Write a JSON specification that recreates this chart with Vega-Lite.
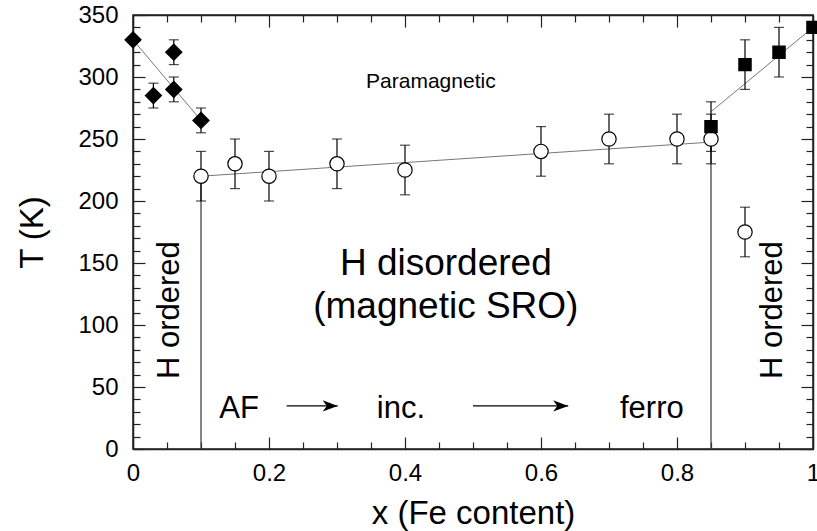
{
  "$schema": "https://vega.github.io/schema/vega-lite/v6.json",
  "width": 680,
  "height": 434,
  "autosize": {"type": "none"},
  "padding": {"left": 133, "top": 15, "right": 4, "bottom": 82},
  "background": "white",
  "config": {
    "view": {"stroke": "#222", "strokeWidth": 1.5},
    "font": "Liberation Sans",
    "axis": {"grid": false, "domainColor": "#222", "domainWidth": 1.5, "tickColor": "#222", "tickWidth": 1.2, "labelFont": "Liberation Sans", "titleFont": "Liberation Sans", "labelColor": "black", "titleColor": "black", "titleFontWeight": "normal", "labelOverlap": false, "labelFlush": false, "labelBound": false}
  },
  "datasets": {
    "pts": [
      {"x": 0, "T": 330, "lo": null, "hi": null, "kind": "diamond"},
      {"x": 0.03, "T": 285, "lo": 275, "hi": 295, "kind": "diamond"},
      {"x": 0.06, "T": 320, "lo": 310, "hi": 330, "kind": "diamond"},
      {"x": 0.06, "T": 290, "lo": 280, "hi": 300, "kind": "diamond"},
      {"x": 0.1, "T": 265, "lo": 255, "hi": 275, "kind": "diamond"},
      {"x": 0.1, "T": 220, "lo": 200, "hi": 240, "kind": "circle"},
      {"x": 0.15, "T": 230, "lo": 210, "hi": 250, "kind": "circle"},
      {"x": 0.2, "T": 220, "lo": 200, "hi": 240, "kind": "circle"},
      {"x": 0.3, "T": 230, "lo": 210, "hi": 250, "kind": "circle"},
      {"x": 0.4, "T": 225, "lo": 205, "hi": 245, "kind": "circle"},
      {"x": 0.6, "T": 240, "lo": 220, "hi": 260, "kind": "circle"},
      {"x": 0.7, "T": 250, "lo": 230, "hi": 270, "kind": "circle"},
      {"x": 0.8, "T": 250, "lo": 230, "hi": 270, "kind": "circle"},
      {"x": 0.85, "T": 250, "lo": 230, "hi": 270, "kind": "circle"},
      {"x": 0.9, "T": 175, "lo": 155, "hi": 195, "kind": "circle"},
      {"x": 0.85, "T": 260, "lo": 240, "hi": 280, "kind": "square"},
      {"x": 0.9, "T": 310, "lo": 290, "hi": 330, "kind": "square"},
      {"x": 0.95, "T": 320, "lo": 300, "hi": 340, "kind": "square"},
      {"x": 1.0, "T": 340, "lo": null, "hi": null, "kind": "square"}
    ],
    "fits": [
      {"x": 0, "T": 330, "seg": "a"},
      {"x": 0.1, "T": 265, "seg": "a"},
      {"x": 0.1, "T": 220, "seg": "b"},
      {"x": 0.85, "T": 247.5, "seg": "b"},
      {"x": 0.85, "T": 272, "seg": "c"},
      {"x": 1.0, "T": 340, "seg": "c"}
    ],
    "vlines": [
      {"x": 0.1, "T0": 0, "T1": 220},
      {"x": 0.85, "T0": 0, "T1": 250}
    ],
    "arrows": [
      {"x1": 0.226, "x2": 0.301, "T": 34.7},
      {"x1": 0.5, "x2": 0.64, "T": 34.7}
    ]
  },
  "resolve": {"axis": {"x": "independent", "y": "independent"}},
  "layer": [
    {
      "data": {"name": "fits"},
      "mark": {"type": "line", "color": "#777", "strokeWidth": 1},
      "encoding": {
        "x": {"field": "x", "type": "quantitative", "scale": {"domain": [0, 1], "nice": false, "zero": false},
          "axis": {
            "orient": "bottom",
            "values": [0,0.05,0.1,0.15,0.2,0.25,0.3,0.35,0.4,0.45,0.5,0.55,0.6,0.65,0.7,0.75,0.8,0.85,0.9,0.95,1],
            "tickSize": {"condition": {"test": "abs(datum.value*5 - round(datum.value*5)) < 0.001", "value": -12}, "value": -7},
            "labelExpr": "abs(datum.value*5 - round(datum.value*5)) < 0.001 ? format(datum.value, '~g') : ''",
            "labelOverlap": false,
            "labelFontSize": 24,
            "labelPadding": 24,
            "labelBaseline": "top",
            "title": "x (Fe content)",
            "titleFontSize": 33,
            "titleX": 340,
            "titleY": 74,
            "titleBaseline": "alphabetic",
            "titleAlign": "center"
          }},
        "y": {"field": "T", "type": "quantitative", "scale": {"domain": [0, 350], "nice": false, "zero": false},
          "axis": {
            "orient": "left",
            "values": [0,10,20,30,40,50,60,70,80,90,100,110,120,130,140,150,160,170,180,190,200,210,220,230,240,250,260,270,280,290,300,310,320,330,340,350],
            "tickSize": {"condition": {"test": "datum.value % 50 === 0", "value": -12}, "value": -7},
            "labelExpr": "datum.value % 50 === 0 ? datum.label : ''",
            "labelOverlap": false,
            "labelFontSize": 24,
            "labelPadding": 27,
            "labelBaseline": "middle",
            "title": "T (K)",
            "titleFontSize": 33,
            "titleX": -91,
            "titleY": 217,
            "titleAngle": 270,
            "titleBaseline": "alphabetic",
            "titleAlign": "center"
          }},
        "detail": {"field": "seg"}
      }
    },
    {
      "data": {"name": "pts"},
      "mark": {"type": "point", "opacity": 0},
      "encoding": {
        "x": {"field": "x", "type": "quantitative",
          "axis": {
            "orient": "top",
            "values": [0,0.05,0.1,0.15,0.2,0.25,0.3,0.35,0.4,0.45,0.5,0.55,0.6,0.65,0.7,0.75,0.8,0.85,0.9,0.95,1],
            "tickSize": {"condition": {"test": "abs(datum.value*5 - round(datum.value*5)) < 0.001", "value": -12}, "value": -7},
            "labels": false, "title": null
          }},
        "y": {"field": "T", "type": "quantitative",
          "axis": {
            "orient": "right",
            "values": [0,10,20,30,40,50,60,70,80,90,100,110,120,130,140,150,160,170,180,190,200,210,220,230,240,250,260,270,280,290,300,310,320,330,340,350],
            "tickSize": {"condition": {"test": "datum.value % 50 === 0", "value": -12}, "value": -7},
            "labels": false, "title": null
          }}
      }
    },
    {
      "data": {"name": "vlines"},
      "mark": {"type": "rule", "color": "#444", "strokeWidth": 1.3},
      "encoding": {
        "x": {"field": "x", "type": "quantitative", "axis": null},
        "y": {"field": "T0", "type": "quantitative", "axis": null},
        "y2": {"field": "T1"}
      }
    },
    {
      "data": {"name": "pts"},
      "mark": {"type": "rule", "color": "black", "strokeWidth": 1.2},
      "encoding": {
        "x": {"field": "x", "type": "quantitative", "axis": null},
        "y": {"field": "lo", "type": "quantitative", "axis": null},
        "y2": {"field": "hi"}
      }
    },
    {
      "data": {"name": "pts"},
      "mark": {"type": "tick", "orient": "horizontal", "color": "black", "size": 10, "thickness": 1.2},
      "encoding": {
        "x": {"field": "x", "type": "quantitative", "axis": null},
        "y": {"field": "lo", "type": "quantitative", "axis": null}
      }
    },
    {
      "data": {"name": "pts"},
      "mark": {"type": "tick", "orient": "horizontal", "color": "black", "size": 10, "thickness": 1.2},
      "encoding": {
        "x": {"field": "x", "type": "quantitative", "axis": null},
        "y": {"field": "hi", "type": "quantitative", "axis": null}
      }
    },
    {
      "data": {"name": "pts"},
      "mark": {"type": "point", "filled": false, "stroke": "black", "strokeWidth": 1.2, "opacity": 1},
      "encoding": {
        "x": {"field": "x", "type": "quantitative", "axis": null},
        "y": {"field": "T", "type": "quantitative", "axis": null},
        "shape": {"field": "kind", "type": "nominal", "scale": {"domain": ["diamond", "circle", "square"], "range": ["diamond", "circle", "square"]}, "legend": null},
        "fill": {"field": "kind", "type": "nominal", "scale": {"domain": ["diamond", "circle", "square"], "range": ["black", "white", "black"]}, "legend": null},
        "size": {"field": "kind", "type": "nominal", "scale": {"domain": ["diamond", "circle", "square"], "range": [260, 150, 150]}, "legend": null}
      }
    },
    {
      "data": {"name": "arrows"},
      "mark": {"type": "rule", "color": "black", "strokeWidth": 1.3},
      "encoding": {
        "x": {"field": "x1", "type": "quantitative", "axis": null},
        "x2": {"field": "x2"},
        "y": {"field": "T", "type": "quantitative", "axis": null}
      }
    },
    {
      "data": {"name": "arrows"},
      "mark": {"type": "point", "shape": "M0,0L-2,-0.75L-1.45,0L-2,0.75Z", "filled": true, "color": "black", "size": 225, "opacity": 1},
      "encoding": {
        "x": {"field": "x2", "type": "quantitative", "axis": null},
        "y": {"field": "T", "type": "quantitative", "axis": null}
      }
    },
    {
      "data": {"values": [{"t": "Paramagnetic", "x": 0.438, "T": 291}]},
      "mark": {"type": "text", "fontSize": 21, "align": "center", "baseline": "alphabetic", "color": "black"},
      "encoding": {"x": {"field": "x", "type": "quantitative", "axis": null}, "y": {"field": "T", "type": "quantitative", "axis": null}, "text": {"field": "t"}}
    },
    {
      "data": {"values": [{"t": "H disordered", "x": 0.46, "T": 140}, {"t": "(magnetic SRO)", "x": 0.46, "T": 105.6}]},
      "mark": {"type": "text", "fontSize": 37, "align": "center", "baseline": "alphabetic", "color": "black"},
      "encoding": {"x": {"field": "x", "type": "quantitative", "axis": null}, "y": {"field": "T", "type": "quantitative", "axis": null}, "text": {"field": "t"}}
    },
    {
      "data": {"values": [{"t": "AF", "x": 0.156, "T": 25}, {"t": "inc.", "x": 0.394, "T": 25}, {"t": "ferro", "x": 0.763, "T": 25}]},
      "mark": {"type": "text", "fontSize": 31, "align": "center", "baseline": "alphabetic", "color": "black"},
      "encoding": {"x": {"field": "x", "type": "quantitative", "axis": null}, "y": {"field": "T", "type": "quantitative", "axis": null}, "text": {"field": "t"}}
    },
    {
      "data": {"values": [{"t": "H ordered", "x": 0.054, "T": 112}, {"t": "H ordered", "x": 0.941, "T": 112}]},
      "mark": {"type": "text", "fontSize": 31, "align": "center", "baseline": "middle", "angle": 270, "color": "black"},
      "encoding": {"x": {"field": "x", "type": "quantitative", "axis": null}, "y": {"field": "T", "type": "quantitative", "axis": null}, "text": {"field": "t"}}
    }
  ]
}
